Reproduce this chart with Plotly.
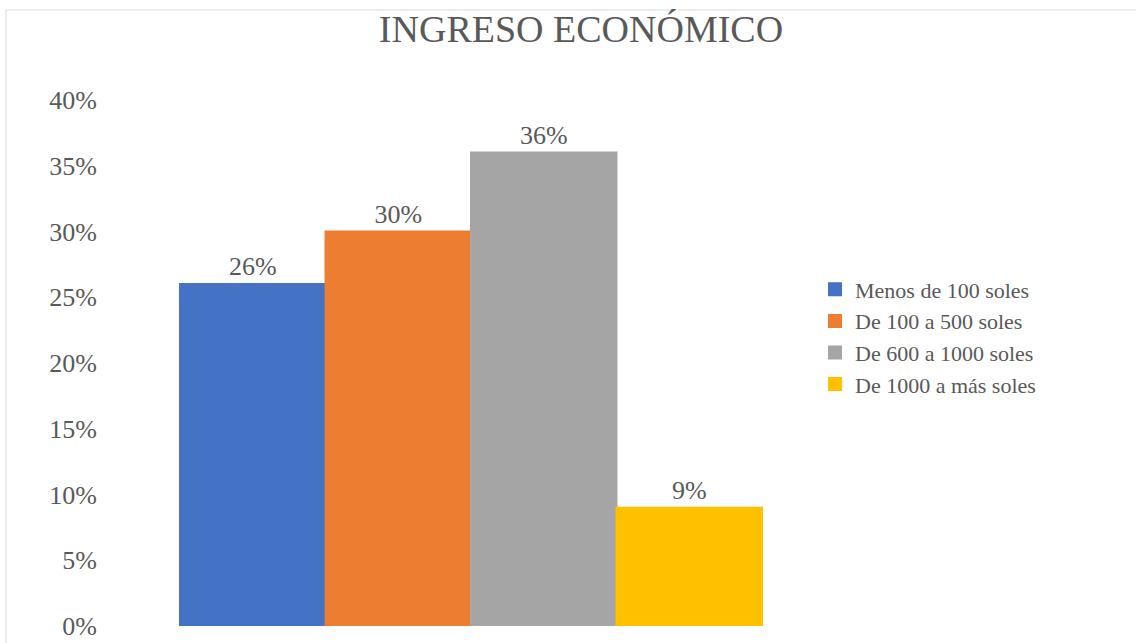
import plotly.graph_objects as go

# Income brackets and their share of respondents (%)
categories = ["Menos de 100 soles", "De 100 a 500 soles", "De 600 a 1000 soles", "De 1000 a más soles"]
values = [26, 30, 36, 9]
colors = ["#4472C4", "#ED7D31", "#A5A5A5", "#FFC000"]
y_ticks = [0, 5, 10, 15, 20, 25, 30, 35, 40]

TEXT = "#595959"
FONT = "Liberation Serif"

W, H = 1136, 643
L, R, T, B = 110, 304, 100, 17

fig = go.Figure()
for name, val, col in zip(categories, values, colors):
    fig.add_trace(go.Bar(
        x=[""], y=[val], name=name,
        marker=dict(color=col, line=dict(color=col, width=2)),
        text=[f"{val}%"], textposition="outside",
        textfont=dict(family=FONT, size=26, color=TEXT),
        cliponaxis=False,
    ))

pw, ph = W - L - R, H - T - B


def px_x(p):
    return (p - L) / pw


def px_y(p):
    return (H - B - p) / ph


fig.update_layout(
    width=W, height=H,
    margin=dict(l=L, r=R, t=T, b=B, autoexpand=False),
    paper_bgcolor="white", plot_bgcolor="white",
    barmode="group", bargap=0.194, bargroupgap=0,
    title=dict(text="INGRESO ECONÓMICO", x=581 / W, xanchor="center",
               y=1 - 29 / H, yanchor="middle", xref="container", yref="container",
               font=dict(family=FONT, size=38, color=TEXT)),
    legend=dict(x=px_x(815), xanchor="left", y=px_y(337), yanchor="middle",
                font=dict(family=FONT, size=22, color=TEXT),
                tracegroupgap=0, itemsizing="constant", bgcolor="rgba(0,0,0,0)"),
    showlegend=True,
    xaxis=dict(showticklabels=False, showgrid=False, showline=False, zeroline=False,
               automargin=False),
    yaxis=dict(range=[0, 40], tickvals=y_ticks, ticktext=[f"{v}%" for v in y_ticks],
               showgrid=False, showline=False, zeroline=False, ticks="",
               ticklabelstandoff=12, automargin=False,
               tickfont=dict(family=FONT, size=26, color=TEXT)),
    shapes=[dict(type="rect", xref="paper", yref="paper",
                 x0=px_x(6), x1=px_x(1200), y0=px_y(700), y1=px_y(10),
                 line=dict(color="#D9D9D9", width=1), fillcolor="rgba(0,0,0,0)",
                 layer="below")],
)

fig.write_html("out.html")
